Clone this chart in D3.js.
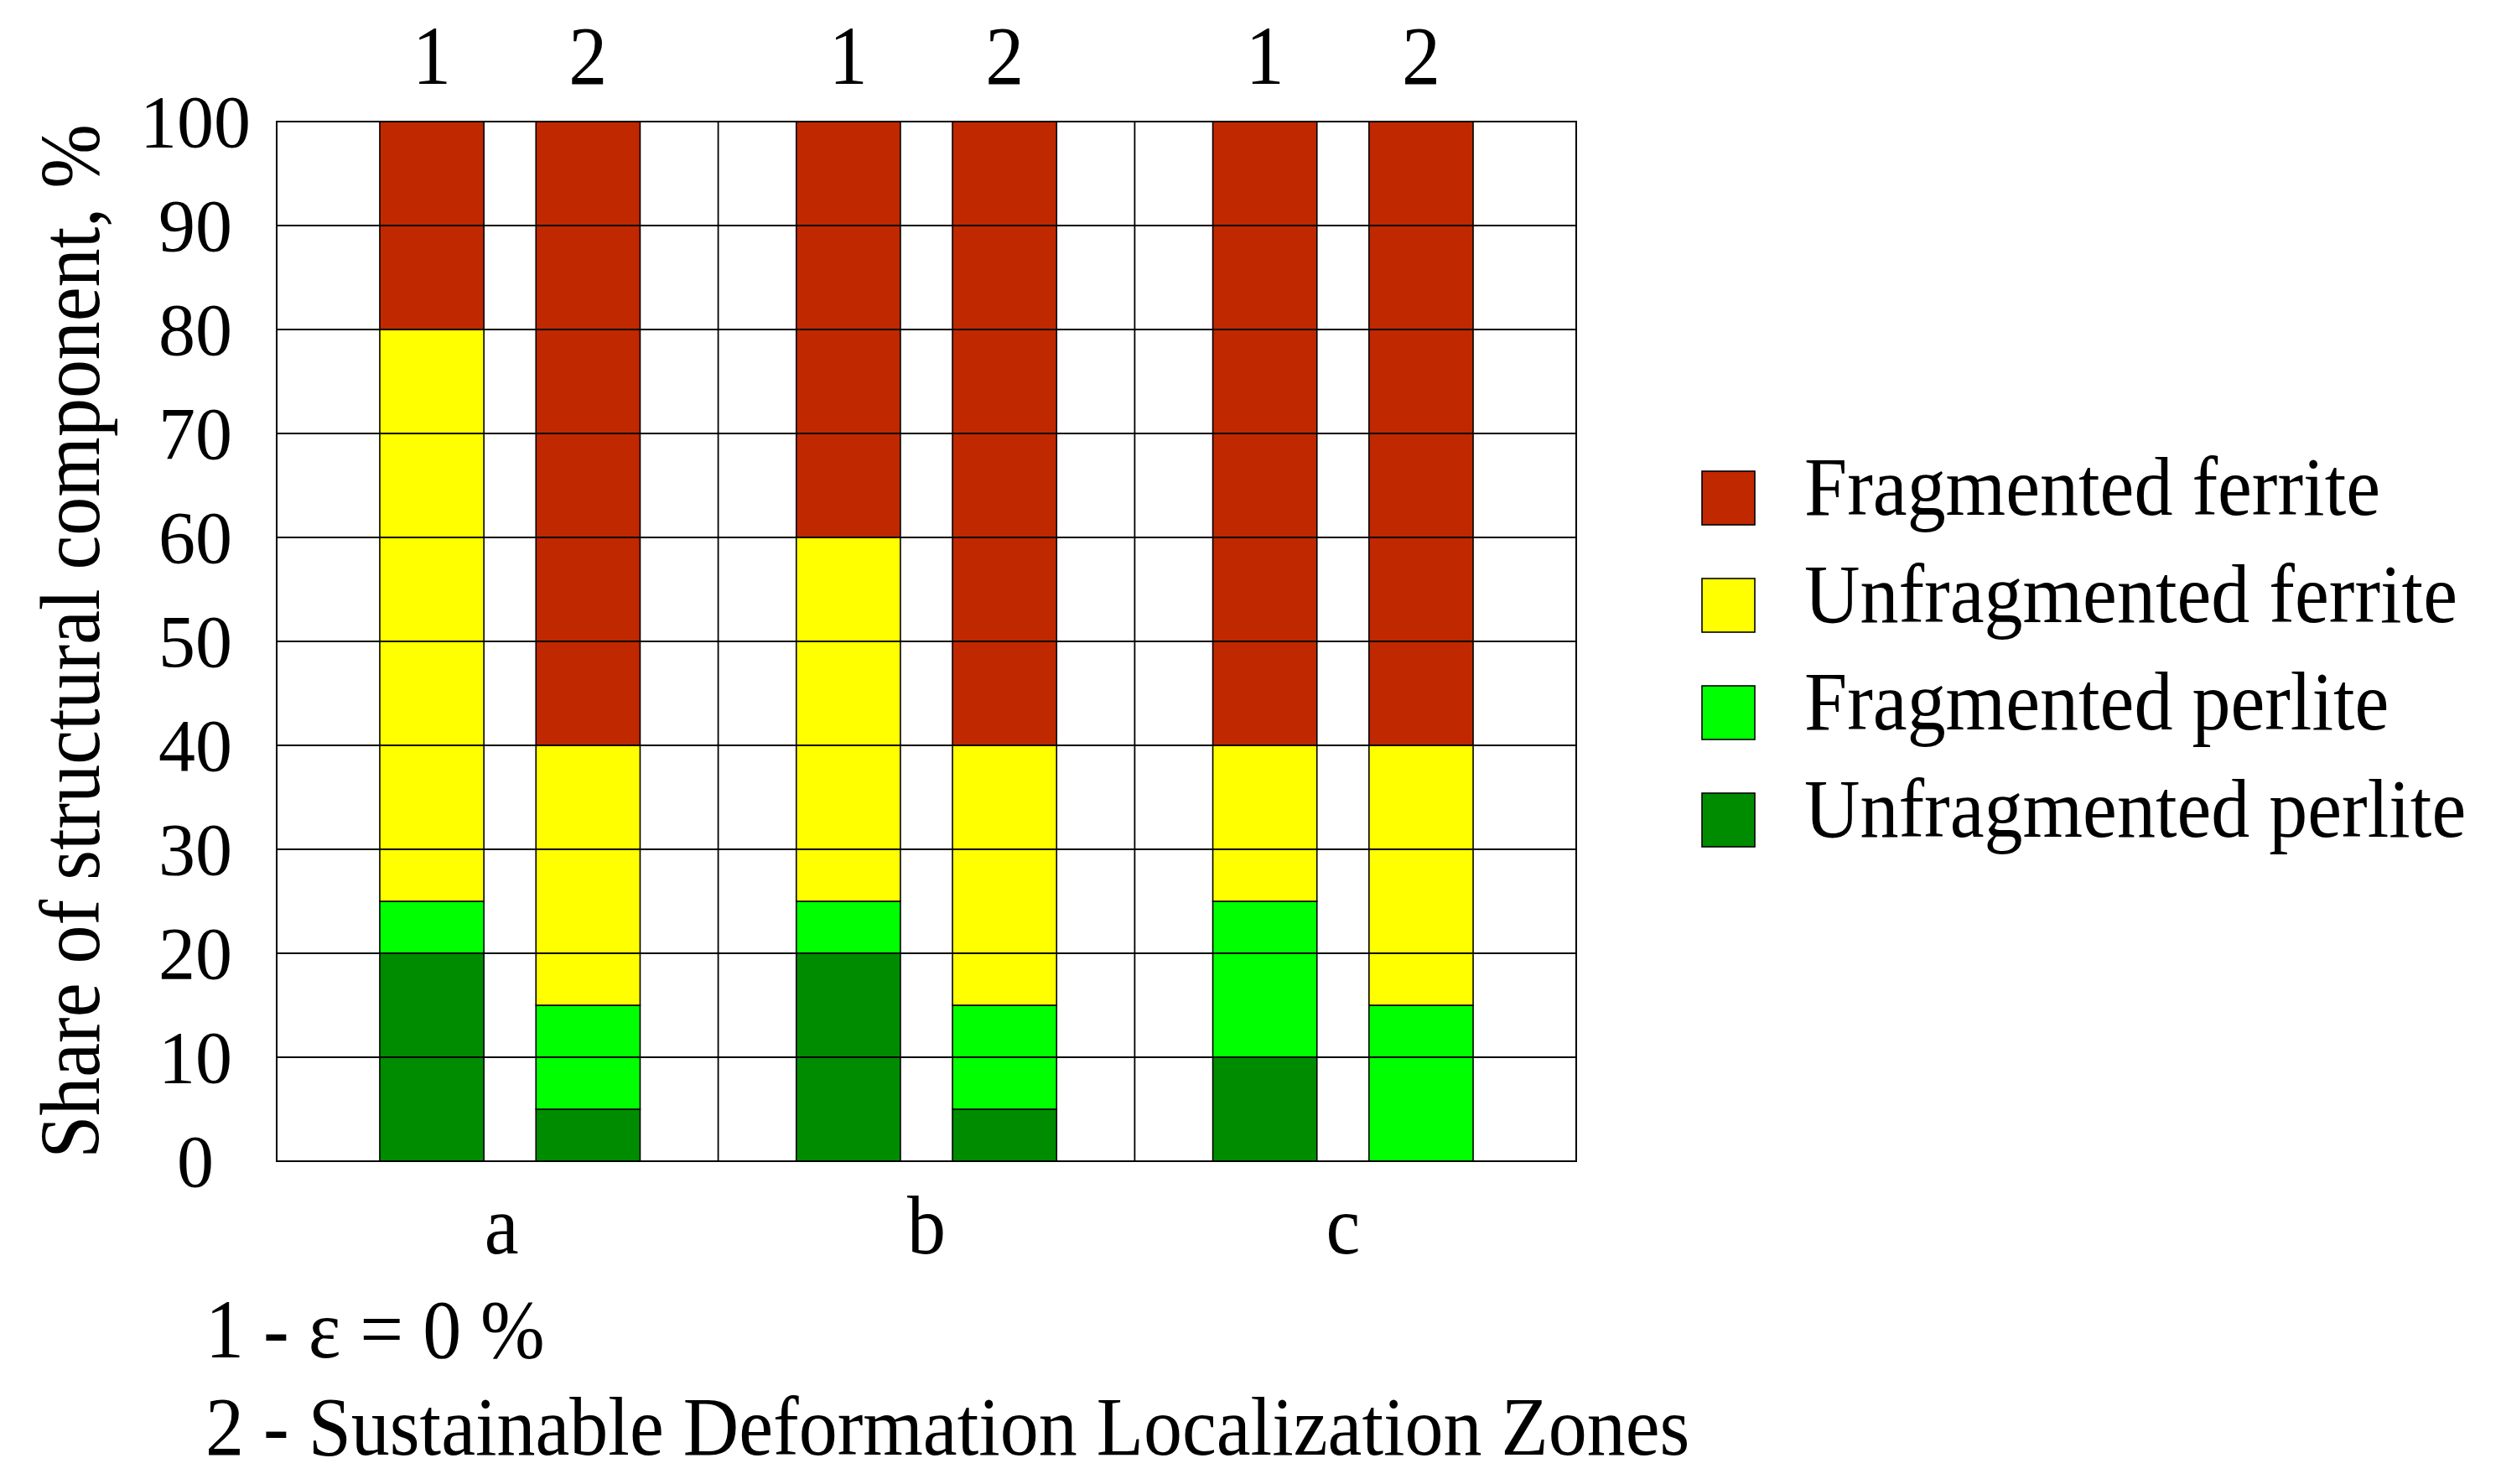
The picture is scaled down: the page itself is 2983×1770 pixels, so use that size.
<!DOCTYPE html>
<html>
<head>
<meta charset="utf-8">
<script src="https://cdn.jsdelivr.net/npm/d3@7"></script>
<style>
  html, body { margin: 0; padding: 0; background: #fff; }
  text { font-family: "Liberation Serif", "Times New Roman", serif; fill: #000; }
</style>
</head>
<body>
<svg id="chart" width="2983" height="1770"></svg>
<script>
// categories
const groups = ['a', 'b', 'c'];
const conditions = ['1', '2'];
const seriesNames = ['Unfragmented perlite', 'Fragmented perlite', 'Unfragmented ferrite', 'Fragmented ferrite'];
const seriesColors = ['#008c00', '#00ff00', '#ffff00', '#c02800'];
// values per bar, order: a1, a2, b1, b2, c1, c2 (share, %)
const unfragPerlite = [20, 5, 20, 5, 10, 0];
const fragPerlite = [5, 10, 5, 10, 15, 15];
const unfragFerrite = [55, 25, 35, 25, 15, 25];
const fragFerrite = [20, 60, 40, 60, 60, 60];
const yTicks = [0, 10, 20, 30, 40, 50, 60, 70, 80, 90, 100];
const notes = ['1 - \u03b5 = 0 %', '2 - Sustainable Deformation Localization Zones'];

const rows = [];
groups.forEach((g, gi) => conditions.forEach((c, ci) => {
  const i = gi * conditions.length + ci;
  rows.push({
    group: g, cond: c,
    'Unfragmented perlite': unfragPerlite[i],
    'Fragmented perlite': fragPerlite[i],
    'Unfragmented ferrite': unfragFerrite[i],
    'Fragmented ferrite': fragFerrite[i]
  });
}));

const svg = d3.select('#chart');
const plot = { left: 330, right: 1880, top: 145, bottom: 1385 };
const FS = 92;

const x0 = d3.scaleBand().domain(groups).range([plot.left, plot.right]).paddingInner(0).paddingOuter(0.06);
const x1 = d3.scaleBand().domain(conditions).range([0, x0.bandwidth()]).paddingInner(1 / 3).paddingOuter(0.5);
const y = d3.scaleLinear().domain([0, 100]).range([plot.bottom, plot.top]);
const color = d3.scaleOrdinal().domain(seriesNames).range(seriesColors);

svg.append('rect').attr('width', 2983).attr('height', 1770).attr('fill', '#fff');

// bars
const stacked = d3.stack().keys(seriesNames)(rows);
svg.append('g').selectAll('g').data(stacked).join('g')
  .attr('fill', d => color(d.key))
  .selectAll('rect').data(d => d).join('rect')
  .attr('x', d => x0(d.data.group) + x1(d.data.cond))
  .attr('width', x1.bandwidth())
  .attr('y', d => y(d[1]))
  .attr('height', d => y(d[0]) - y(d[1]))
  .attr('stroke', '#000').attr('stroke-width', 1.6);

// grid goes over the bars, like the original
const grid = svg.append('g').attr('stroke', '#000').attr('stroke-width', 1.8);
grid.selectAll('line.h').data(yTicks.slice(1, -1)).join('line').attr('class', 'h')
  .attr('x1', plot.left).attr('x2', plot.right)
  .attr('y1', d => y(d)).attr('y2', d => y(d));
// separators between groups
grid.selectAll('line.v').data(groups.slice(1)).join('line').attr('class', 'v')
  .attr('x1', d => x0(d)).attr('x2', d => x0(d))
  .attr('y1', plot.top).attr('y2', plot.bottom);
svg.append('rect').attr('x', plot.left).attr('y', plot.top)
  .attr('width', plot.right - plot.left).attr('height', plot.bottom - plot.top)
  .attr('fill', 'none').attr('stroke', '#000').attr('stroke-width', 2);

// y axis labels
const yAxis = svg.append('g').attr('transform', `translate(${plot.left},0)`)
  .call(d3.axisLeft(y).tickValues(yTicks).tickSize(0).tickPadding(0));
yAxis.select('.domain').remove();
yAxis.selectAll('text')
  .attr('x', -97).attr('dy', '0.34em')
  .attr('text-anchor', 'middle')
  .style('font-size', '88px').style('font-family', '"Liberation Serif", serif');

svg.append('text')
  .attr('transform', `translate(118,${(plot.top + plot.bottom) / 2}) rotate(-90) scale(1,1.1)`)
  .attr('text-anchor', 'middle')
  .style('font-size', FS + 'px')
  .text('Share of structural component, %');

// condition labels above bars
svg.append('g').selectAll('text').data(rows).join('text')
  .attr('transform', d => `translate(${x0(d.group) + x1(d.cond) + x1.bandwidth() / 2},100) scale(1,1.07)`)
  .attr('text-anchor', 'middle')
  .style('font-size', FS + 'px')
  .text(d => d.cond);

// group labels below
svg.append('g').selectAll('text').data(groups).join('text')
  .attr('transform', d => `translate(${x0(d) + x0.bandwidth() / 2 - (d === 'a' ? 10 : 0)},1495) scale(1,1.07)`)
  .attr('text-anchor', 'middle')
  .style('font-size', FS + 'px')
  .text(d => d);

// footnotes
svg.append('g').selectAll('text').data(notes).join('text')
  .attr('transform', (d, i) => `translate(245,${1619 + i * 116}) scale(1,1.07)`)
  .style('font-size', FS + 'px')
  .text(d => d);

// legend
const legendItems = seriesNames.slice().reverse();
const ly = d3.scalePoint().domain(legendItems).range([594, 978]);
const legend = svg.append('g').selectAll('g').data(legendItems).join('g')
  .attr('transform', d => `translate(2030,${ly(d)})`);
legend.append('rect')
  .attr('x', 0).attr('y', -32).attr('width', 63).attr('height', 64)
  .attr('fill', d => color(d)).attr('stroke', '#000').attr('stroke-width', 1.6);
legend.append('text')
  .attr('transform', 'translate(122,20) scale(1,1.07)')
  .style('font-size', FS + 'px')
  .text(d => d);
</script>
</body>
</html>
